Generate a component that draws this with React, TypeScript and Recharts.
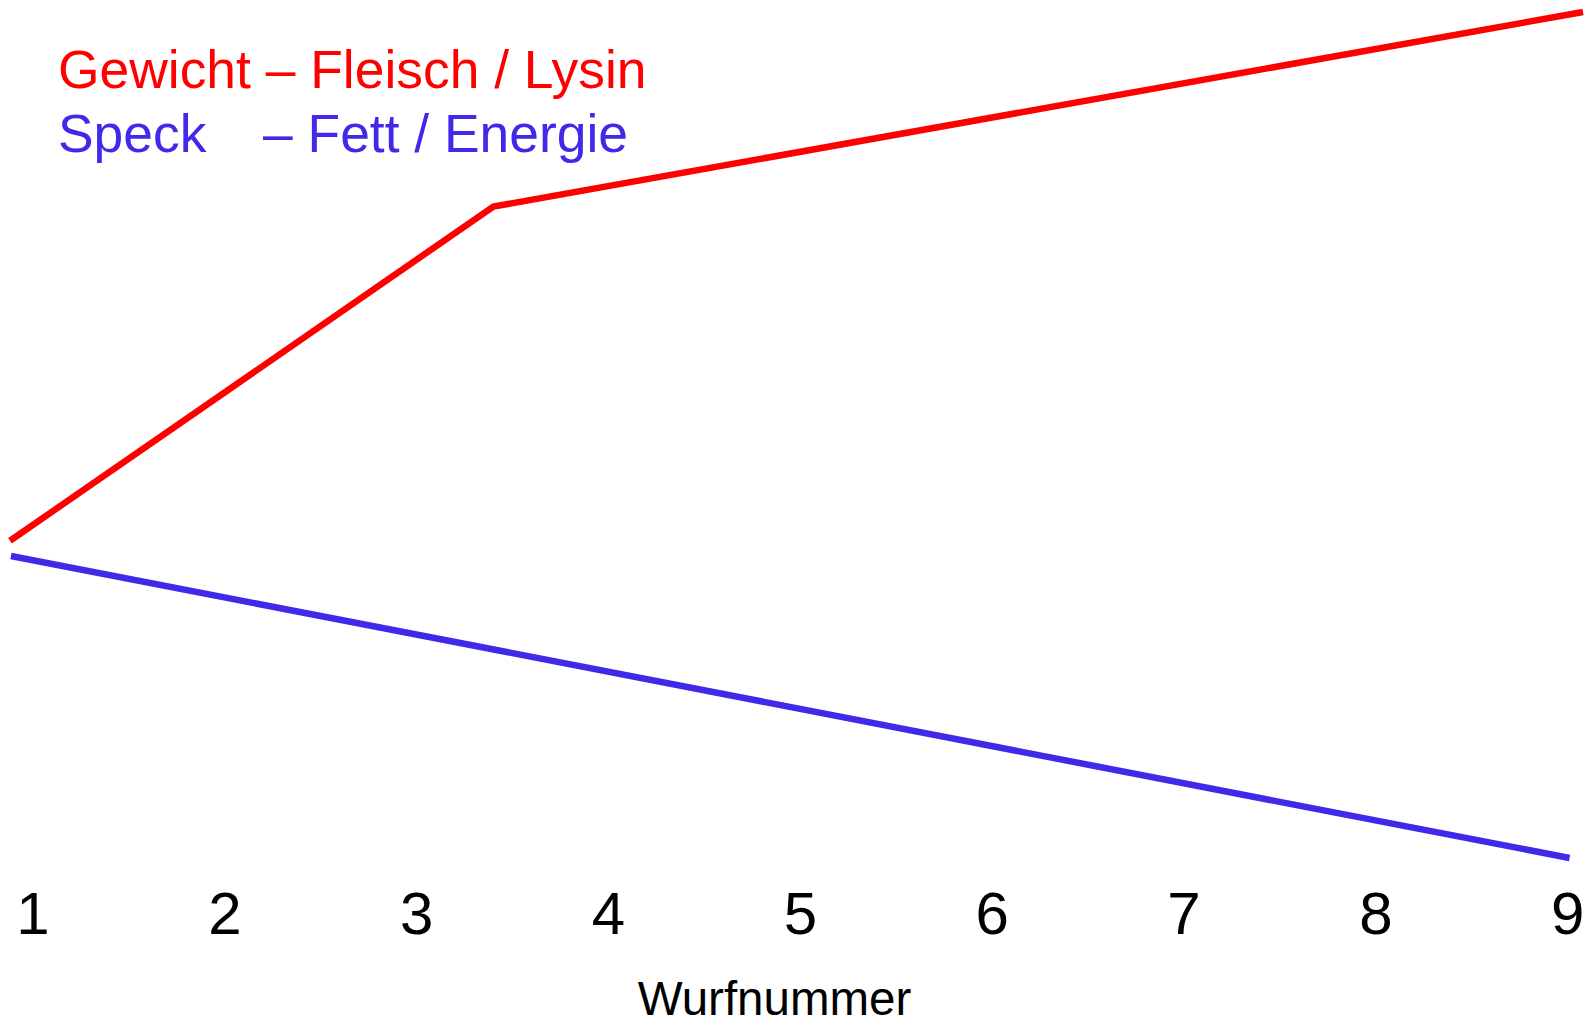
import { LineChart, Line, XAxis, YAxis } from "recharts"

// Wurfnummer tick labels
const wurfnummern = [1, 2, 3, 4, 5, 6, 7, 8, 9]

// Gewicht – Fleisch / Lysin (relative units, 0..100)
const gewichtX = [0.88, 3.4, 9.08]
const gewichtY = [37.5, 77, 100]

// Speck – Fett / Energie
const speckX = [0.885, 9.01]
const speckY = [35.7, 0]

const gewichtData = gewichtX.map((x, i) => ({ x, y: gewichtY[i] }))
const speckData = speckX.map((x, i) => ({ x, y: speckY[i] }))

const FONT = "'Liberation Sans', Arial, Helvetica, sans-serif"
const RED = "#FF0000"
const BLUE = "#4129EA"

const TickLabel = (props: any) => {
    const { x, y, payload } = props
    return (
        <text x={x} y={y + 76} textAnchor="middle" fontSize={60} fontFamily={FONT} fill="#000">
            {payload.value}
        </text>
    )
}

const AxisTitle = (props: any) => {
    const vb = props.viewBox
    return (
        <text x={vb.x + vb.width / 2 - 22} y={vb.y + 157} textAnchor="middle" fontSize={47.5} fontFamily={FONT} fill="#000">
            Wurfnummer
        </text>
    )
}

export default function App() {
    return (
        <div style={{ position: "relative", width: 1589, height: 1027, background: "#fff" }}>
            <style>{`body{margin:0}`}</style>
            <LineChart width={1589} height={1027} margin={{ top: 12, right: 6, left: 10, bottom: 0 }}>
                <XAxis
                    type="number"
                    dataKey="x"
                    domain={[0.88, 9.08]}
                    ticks={wurfnummern}
                    interval={0}
                    height={169}
                    axisLine={false}
                    tickLine={false}
                    tickSize={0}
                    tickMargin={0}
                    tick={<TickLabel />}
                    label={<AxisTitle />}
                />
                <YAxis type="number" dataKey="y" domain={[0, 100]} hide />
                <Line
                    data={gewichtData}
                    dataKey="y"
                    type="linear"
                    stroke={RED}
                    strokeWidth={6.5}
                    dot={false}
                    activeDot={false}
                    isAnimationActive={false}
                />
                <Line
                    data={speckData}
                    dataKey="y"
                    type="linear"
                    stroke={BLUE}
                    strokeWidth={6.5}
                    dot={false}
                    activeDot={false}
                    isAnimationActive={false}
                />
            </LineChart>
            <div style={{ position: "absolute", left: 58, top: 38, fontFamily: FONT, fontSize: 53.4, lineHeight: "64px", whiteSpace: "pre" }}>
                <div style={{ color: RED }}>Gewicht – Fleisch / Lysin</div>
                <div style={{ color: BLUE, position: "relative" }}>
                    <span>Speck</span>
                    <span style={{ position: "absolute", left: 205 }}>– Fett / Energie</span>
                </div>
            </div>
        </div>
    )
}
